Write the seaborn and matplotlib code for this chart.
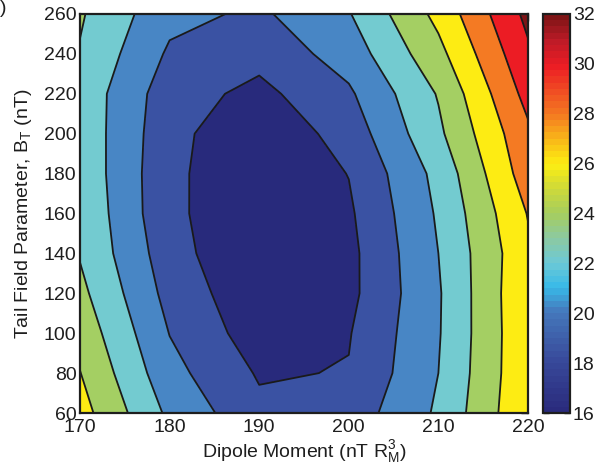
import numpy as np
import matplotlib
matplotlib.use("Agg")
import matplotlib.pyplot as plt
import seaborn as sns
from matplotlib.colors import LinearSegmentedColormap, Normalize
from matplotlib.cm import ScalarMappable

# ---- data ----
dipole_moment = [170, 180, 190, 200, 210, 220]
tail_field = [60, 80, 100, 120, 140, 160, 180, 200, 220, 240, 260]
# rows: tail_field, columns: dipole_moment
z_y060 = [26.78, 21.58, 18.48, 18.86, 22.30, 27.83]
z_y080 = [26.05, 20.65, 17.80, 18.10, 22.00, 27.70]
z_y100 = [25.30, 19.95, 16.95, 17.88, 21.85, 27.70]
z_y120 = [24.52, 19.32, 16.50, 17.48, 21.80, 27.80]
z_y140 = [23.85, 18.85, 16.00, 17.46, 22.00, 27.60]
z_y160 = [23.68, 18.42, 16.50, 17.70, 22.25, 28.10]
z_y180 = [23.45, 18.45, 16.40, 18.05, 22.60, 29.07]
z_y200 = [23.38, 18.62, 16.40, 18.84, 23.60, 29.60]
z_y220 = [23.33, 18.89, 17.45, 19.69, 24.15, 30.70]
z_y240 = [23.86, 19.70, 18.65, 20.89, 25.40, 31.65]
z_y260 = [24.22, 20.58, 19.65, 21.87, 26.57, 32.54]
levels = [16, 18, 20, 22, 24, 26, 28, 30, 32, 40]
x_ticks = [170, 180, 190, 200, 210, 220]
y_ticks = [60, 80, 100, 120, 140, 160, 180, 200, 220, 240, 260]
cbar_ticks = [16, 18, 20, 22, 24, 26, 28, 30, 32]

Z = np.array([z_y060, z_y080, z_y100, z_y120, z_y140, z_y160,
              z_y180, z_y200, z_y220, z_y240, z_y260])
X, Y = np.meshgrid(dipole_moment, tail_field)

# ---- style ----
sns.set_style("white")
plt.rcParams['font.family'] = ['Liberation Sans', 'DejaVu Sans']
plt.rcParams['mathtext.fontset'] = 'custom'
plt.rcParams['mathtext.rm'] = 'Liberation Sans'
plt.rcParams['mathtext.it'] = 'Liberation Sans'

fill_colors = ['#282A7C', '#3A52A3', '#4886C5', '#73CBD0', '#A4CF63',
               '#FDEC13', '#F47A23', '#EC1C24', '#7E1416']
cb_anchor_vals = [16, 18, 20, 21, 22, 23, 24, 25, 26, 27, 28, 29, 30, 31, 32]
cb_anchor_cols = ['#2A2B7D', '#38499A', '#4578BC', '#38BAE8', '#6DC9D6',
                  '#8CC9A0', '#A6CE5E', '#CDD93A', '#FDEE12', '#F9B818',
                  '#F47B21', '#F04C23', '#EC1C24', '#BE1B27', '#7E1416']
cb_cmap = LinearSegmentedColormap.from_list(
    'cb', [((v - 16) / 16, c) for v, c in zip(cb_anchor_vals, cb_anchor_cols)], N=64)

fig = plt.figure(figsize=(5.96, 4.69), dpi=100)
ax = fig.add_axes([80 / 596, 1 - 413 / 469, 448 / 596, 399 / 469])
cax = fig.add_axes([543 / 596, 1 - 413 / 469, 27 / 596, 399 / 469])

ax.contourf(X, Y, Z, levels=levels, colors=fill_colors)
ax.contour(X, Y, Z, levels=levels[1:-1], colors='#1a1a1a', linewidths=1.3)

ax.set_xlim(170, 220)
ax.set_ylim(60, 260)
ax.set_xticks(x_ticks)
ax.set_yticks(y_ticks)
fs = 14
tc = '#1e1e1e'
ax.tick_params(direction='in', length=5, width=1, top=True, right=True,
               labelsize=fs, colors=tc, labelcolor=tc)
ax.tick_params(axis='x', pad=4.5)
ax.tick_params(axis='y', pad=2.5)
for s in ax.spines.values():
    s.set_linewidth(1.6)
    s.set_color(tc)
ax.set_xlabel('Dipole Moment (nT R$_\\mathregular{M}^\\mathregular{3}$)', fontsize=fs,
              labelpad=1, color=tc)
ax.set_ylabel('Tail Field Parameter, B$_\\mathregular{T}$ (nT)', fontsize=fs,
              labelpad=7, color=tc)

cb = fig.colorbar(ScalarMappable(norm=Normalize(16, 32), cmap=cb_cmap), cax=cax)
cb.set_ticks(cbar_ticks)
cax.tick_params(direction='in', length=4, width=1, left=True, right=True,
                labelsize=fs, pad=2, colors=tc, labelcolor=tc)
cb.outline.set_linewidth(1.6)
cb.outline.set_edgecolor(tc)

fig.text(0.0, 1.0, ')', fontsize=fs, va='top', ha='left', color=tc)

fig.savefig('out.png', dpi=100)
